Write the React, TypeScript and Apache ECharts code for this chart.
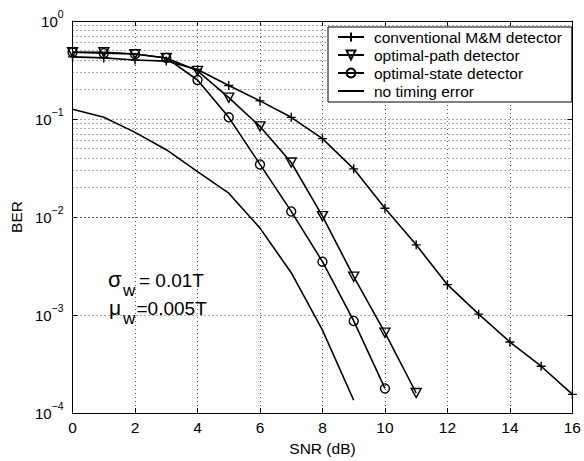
import React, { useEffect, useRef } from "react";
import * as echarts from "echarts";

const snr = [0, 1, 2, 3, 4, 5, 6, 7, 8, 9, 10, 11, 12, 13, 14, 15, 16];
const conventional = [0.43, 0.42, 0.4, 0.39, 0.32, 0.22, 0.153, 0.104, 0.063, 0.031, 0.0123, 0.0052, 0.00204, 0.00102, 0.00053, 0.0003, 0.000155];
const optimalPath = [0.48, 0.48, 0.46, 0.42, 0.31, 0.165, 0.084, 0.036, 0.0102, 0.00246, 0.00066, 0.00016];
const optimalState = [0.48, 0.47, 0.46, 0.42, 0.25, 0.104, 0.0344, 0.0114, 0.0035, 0.00087, 0.000178];
const noTimingX = [0, 1, 2, 3, 4, 5, 6, 7, 8, 9];
const noTiming = [0.126, 0.104, 0.073, 0.0486, 0.029, 0.0175, 0.0077, 0.0027, 0.0007, 0.000135];
const minorGrid = [2, 3, 4, 5, 6, 7, 8, 9].flatMap((m) => [1e-4, 1e-3, 1e-2, 1e-1].map((d) => m * d));
const names = ["conventional M&M detector", "optimal-path detector", "optimal-state detector", "no timing error"];

const FONT = "Liberation Sans";
const GRID_COLOR = "#555";

export default function App() {
  const ref = useRef<HTMLDivElement>(null);
  useEffect(() => {
    if (!ref.current) return;
    const chart = echarts.init(ref.current, null, { renderer: "svg" });
    const pair = (xs: number[], ys: number[]) => ys.map((y, i) => [xs[i], y]);
    const symStyle = { color: "rgba(0,0,0,0)", borderColor: "#000", borderWidth: 1.4 };
    const lineStyle = { color: "#000", width: 1.6 };
    const txt = (text: string, x: number, y: number, size: number) => ({
      type: "text",
      x,
      y,
      style: { text, fontFamily: FONT, fontSize: size, fill: "#000", verticalAlign: "middle", align: "left" },
    });
    chart.setOption({
      animation: false,
      backgroundColor: "#fff",
      textStyle: { fontFamily: FONT },
      grid: { left: 70, top: 21, right: 8, bottom: 44, containLabel: false },
      legend: {
        data: names,
        orient: "vertical",
        left: 328,
        top: 27,
        padding: [2, 10, 3, 9],
        itemWidth: 26,
        itemHeight: 11,
        itemGap: 2,
        backgroundColor: "#fff",
        borderColor: "#000",
        borderWidth: 1,
        borderRadius: 0,
        textStyle: { fontFamily: FONT, fontSize: 15.5, color: "#000", padding: [0, 0, 0, 5] },
      },
      xAxis: [
        {
          type: "value",
          min: 0,
          max: 16,
          interval: 2,
          name: "SNR (dB)",
          nameLocation: "middle",
          nameGap: 27,
          nameTextStyle: { fontFamily: FONT, fontSize: 15.5, color: "#000" },
          axisLine: { show: true, onZero: false, lineStyle: { color: "#000", width: 1 } },
          axisTick: { show: true, inside: true, length: 5, lineStyle: { color: "#000" } },
          axisLabel: { fontFamily: FONT, fontSize: 15.5, color: "#000", margin: 6 },
          splitLine: { show: true, lineStyle: { color: GRID_COLOR, type: [1, 3], width: 1 } },
        },
        {
          type: "value",
          position: "top",
          min: 0,
          max: 16,
          interval: 2,
          axisLine: { show: true, onZero: false, lineStyle: { color: "#000", width: 1 } },
          axisTick: { show: true, inside: true, length: 5, lineStyle: { color: "#000" } },
          axisLabel: { show: false },
          splitLine: { show: false },
        },
      ],
      yAxis: [
        {
          type: "log",
          logBase: 10,
          min: 1e-4,
          max: 1,
          name: "BER",
          nameLocation: "middle",
          nameGap: 47,
          nameTextStyle: { fontFamily: FONT, fontSize: 15.5, color: "#000" },
          axisLine: { show: true, onZero: false, lineStyle: { color: "#000", width: 1 } },
          axisTick: { show: true, inside: true, length: 5, lineStyle: { color: "#000" } },
          axisLabel: {
            margin: 9,
            formatter: (v: number) => {
              const e = Math.round(Math.log10(v));
              return `{b|10}{s|${e === 0 ? "0" : "−" + Math.abs(e)}}`;
            },
            rich: {
              b: { fontFamily: FONT, fontSize: 15, color: "#000", lineHeight: 26 },
              s: { fontFamily: FONT, fontSize: 10.5, color: "#000", lineHeight: 10, verticalAlign: "top" },
            },
          },
          splitLine: { show: true, lineStyle: { color: GRID_COLOR, type: [1, 3], width: 1 } },
        },
        {
          type: "log",
          logBase: 10,
          min: 1e-4,
          max: 1,
          position: "right",
          axisLine: { show: true, onZero: false, lineStyle: { color: "#000", width: 1 } },
          axisTick: { show: true, inside: true, length: 5, lineStyle: { color: "#000" } },
          axisLabel: { show: false },
          splitLine: { show: false },
        },
      ],
      series: [
        {
          name: names[0],
          type: "line",
          data: pair(snr, conventional),
          symbol: "path://M5,0 L5,10 M0,5 L10,5",
          symbolSize: 9,
          itemStyle: symStyle,
          lineStyle,
          z: 5,
        },
        {
          name: names[1],
          type: "line",
          data: pair(snr, optimalPath),
          symbol: "path://M0,0 L10,0 L5,9 Z",
          symbolSize: [10, 9],
          itemStyle: symStyle,
          lineStyle,
          z: 5,
        },
        {
          name: names[2],
          type: "line",
          data: pair(snr, optimalState),
          symbol: "circle",
          symbolSize: 9,
          itemStyle: symStyle,
          lineStyle,
          z: 5,
        },
        {
          name: names[3],
          type: "line",
          data: pair(noTimingX, noTiming),
          symbol: "none",
          itemStyle: { color: "rgba(0,0,0,0)", borderWidth: 0 },
          lineStyle,
          z: 5,
          markLine: {
            silent: true,
            symbol: "none",
            label: { show: false },
            lineStyle: { color: GRID_COLOR, type: [1, 3], width: 1 },
            z: 1,
            data: minorGrid.map((v) => ({ yAxis: v })),
          },
        },
      ],
      graphic: [
        txt("σ", 108, 279, 22),
        txt("w", 123, 290.5, 17),
        txt("= 0.01T", 139, 280, 19),
        txt("μ", 109, 307, 21),
        txt("w", 123, 318.5, 17),
        txt("=0.005T", 136.5, 308.5, 19),
      ],
    });
    return () => chart.dispose();
  }, []);
  return <div ref={ref} style={{ width: 584, height: 461, position: "absolute", left: 0, top: 0 }} />;
}
